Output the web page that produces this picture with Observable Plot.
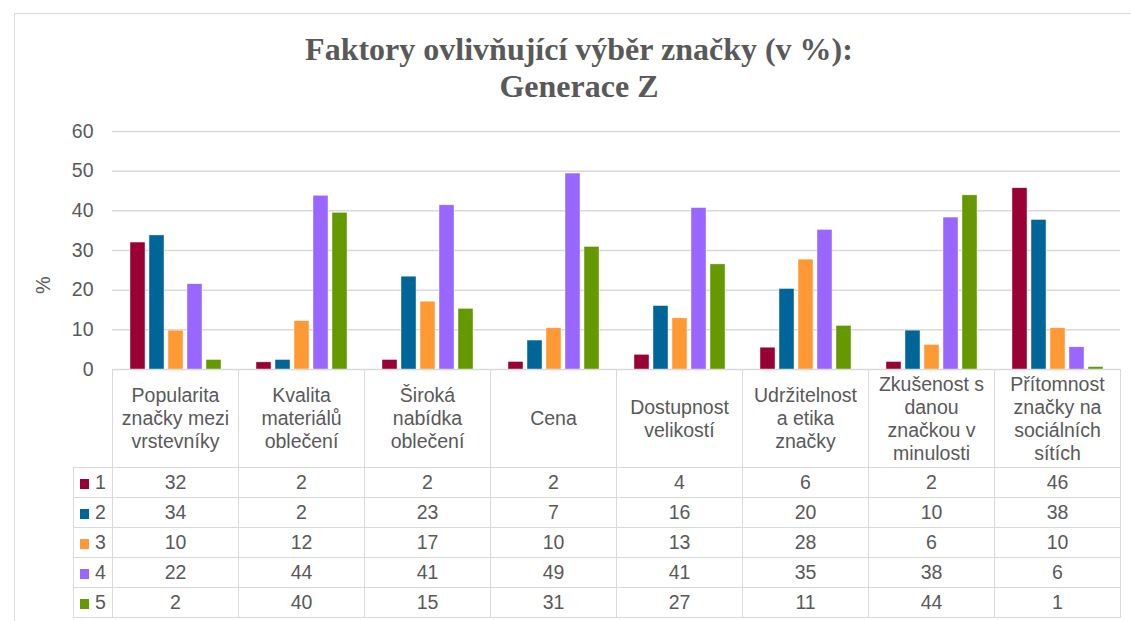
<!DOCTYPE html>
<html>
<head>
<meta charset="utf-8">
<script src="https://cdn.jsdelivr.net/npm/d3@7"></script>
<script src="https://cdn.jsdelivr.net/npm/@observablehq/plot@0.6"></script>
<style>
  html, body { margin: 0; padding: 0; background: #fff; overflow: hidden; }
  body { width: 1131px; height: 621px; position: relative; font-family: "Liberation Sans", Arial, sans-serif; color: #595959; }
  #frame { position: absolute; left: 14px; top: 13px; width: 1200px; height: 700px; border-left: 1.5px solid #d9d9d9; border-top: 1.5px solid #d9d9d9; }
  #title { position: absolute; left: 14px; width: 1130px; top: 31px; text-align: center; font-family: "Liberation Serif", "Times New Roman", serif; font-weight: bold; font-size: 32px; line-height: 37px; color: #595959; }
  #ylab { position: absolute; left: 43px; top: 285px; transform: translate(-50%, -50%) rotate(-90deg); font-size: 20px; }
  #chart { position: absolute; left: 0; top: 100px; }
  #tbl { position: absolute; left: 73px; top: 369px; border-collapse: collapse; table-layout: fixed; font-size: 19.5px; color: #595959; }
  #tbl td { border: 1px solid #d9d9d9; padding: 0; text-align: center; vertical-align: middle; }
  #tbl td.blank { border: none; }
  #tbl tr.head td { height: 97px; line-height: 23px; white-space: pre-line; }
  #tbl tr.row td { height: 29px; line-height: 29px; }
  #tbl td.key { text-align: left; padding-left: 6px; }
  .sw { display: inline-block; width: 9px; height: 10px; margin-right: 6px; vertical-align: 0px; }
</style>
</head>
<body>
<div id="frame"></div>
<div id="title">Faktory ovlivňující výběr značky (v %):<br>Generace Z</div>
<div id="ylab">%</div>
<div id="chart"></div>
<table id="tbl"></table>
<script>
const categories = [
  "Popularita\nznačky mezi\nvrstevníky",
  "Kvalita\nmateriálů\noblečení",
  "Široká\nnabídka\noblečení",
  "Cena",
  "Dostupnost\nvelikostí",
  "Udržitelnost\na etika\nznačky",
  "Zkušenost s\ndanou\nznačkou v\nminulosti",
  "Přítomnost\nznačky na\nsociálních\nsítích"
];
const seriesNames = ["1", "2", "3", "4", "5"];
const seriesColors = ["#990033", "#006699", "#ff9933", "#9966ff", "#669900"];
const s1 = [32.0, 1.8, 2.4, 1.9, 3.7, 5.5, 1.9, 45.7];
const s2 = [33.8, 2.4, 23.4, 7.3, 16.0, 20.3, 9.8, 37.7];
const s3 = [9.8, 12.2, 17.1, 10.4, 12.9, 27.7, 6.2, 10.4];
const s4 = [21.5, 43.8, 41.4, 49.4, 40.7, 35.2, 38.3, 5.6];
const s5 = [2.4, 39.5, 15.3, 30.9, 26.5, 11.0, 43.9, 0.6];
const yTicks = [0, 10, 20, 30, 40, 50, 60];

const seriesValues = [s1, s2, s3, s4, s5];
const data = [];
seriesValues.forEach((vals, si) => {
  vals.forEach((v, ci) => data.push({cat: categories[ci], s: seriesNames[si], v}));
});

const chart = Plot.plot({
  width: 1131,
  height: 283,
  marginLeft: 112,
  marginRight: 11,
  marginTop: 31,
  marginBottom: 14,
  style: {fontFamily: "Liberation Sans, Arial, sans-serif", fontSize: "19.5px", color: "#595959", background: "transparent", overflow: "visible"},
  fx: {domain: categories, padding: 0, axis: null, label: null},
  x: {domain: seriesNames, paddingInner: 0.227, paddingOuter: 0.86, axis: null},
  y: {domain: [0, 60], ticks: yTicks, tickSize: 0, tickPadding: 19, label: null, tickFormat: d => String(d)},
  color: {domain: seriesNames, range: seriesColors},
  marks: [
    Plot.gridY(yTicks, {stroke: "#d9d9d9", strokeOpacity: 1, strokeWidth: 1.5}),
    Plot.barY(data, {fx: "cat", x: "s", y: "v", fill: "s", stroke: "white", strokeWidth: 0.6, strokeOpacity: 0.7})
  ]
});
document.getElementById("chart").appendChild(chart);

// data table below the chart
const tbl = document.getElementById("tbl");
const cg = document.createElement("colgroup");
[39].concat(categories.map(() => 126)).forEach(w => {
  const c = document.createElement("col"); c.style.width = w + "px"; cg.appendChild(c);
});
tbl.appendChild(cg);
const head = document.createElement("tr"); head.className = "head";
const blank = document.createElement("td"); blank.className = "blank"; head.appendChild(blank);
categories.forEach(c => { const td = document.createElement("td"); td.textContent = c; head.appendChild(td); });
tbl.appendChild(head);
seriesValues.forEach((vals, si) => {
  const tr = document.createElement("tr"); tr.className = "row";
  const key = document.createElement("td"); key.className = "key";
  const sw = document.createElement("span"); sw.className = "sw"; sw.style.background = seriesColors[si];
  key.appendChild(sw); key.appendChild(document.createTextNode(seriesNames[si]));
  tr.appendChild(key);
  vals.forEach(v => { const td = document.createElement("td"); td.textContent = Math.round(v); tr.appendChild(td); });
  tbl.appendChild(tr);
});
</script>
</body>
</html>
